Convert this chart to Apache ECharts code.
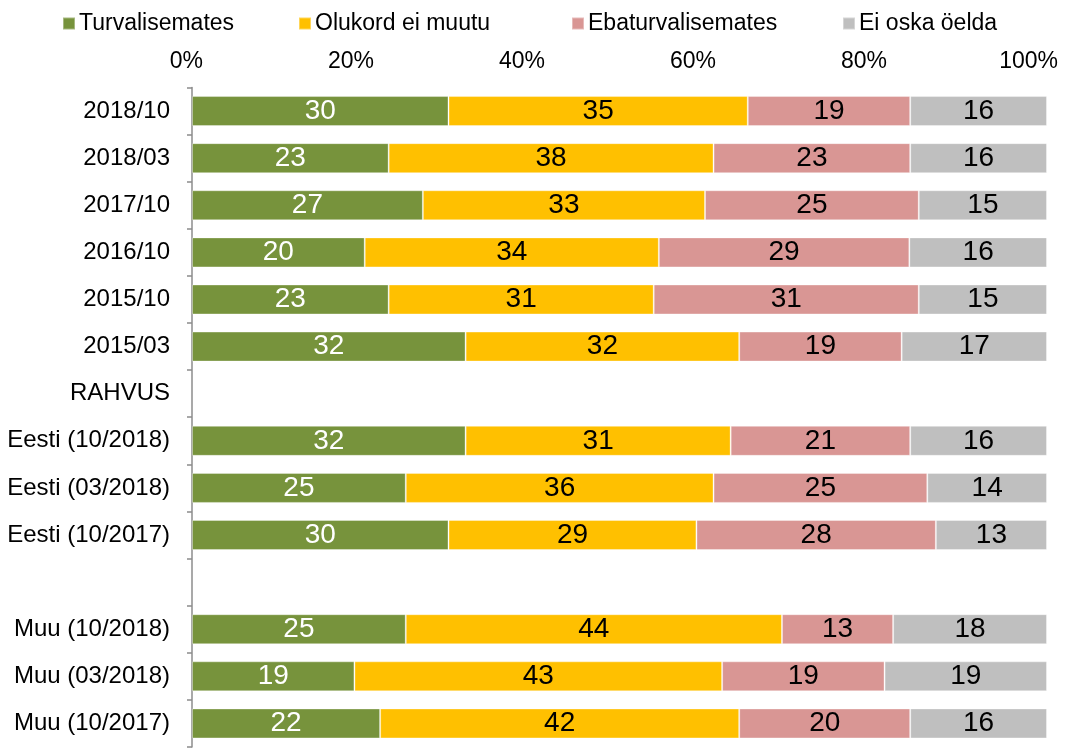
<!DOCTYPE html>
<html>
<head>
<meta charset="utf-8">
<script src="https://cdn.jsdelivr.net/npm/echarts@6/dist/echarts.min.js"></script>
<style>
  html, body { margin: 0; padding: 0; background: #fff; }
  #chart { width: 1080px; height: 751px; }
</style>
</head>
<body>
<div id="chart"></div>
<script>
// categories, top to bottom ('' rows are spacer rows)
var categories = ['2018/10', '2018/03', '2017/10', '2016/10', '2015/10', '2015/03', 'RAHVUS',
    'Eesti (10/2018)', 'Eesti (03/2018)', 'Eesti (10/2017)', '',
    'Muu (10/2018)', 'Muu (03/2018)', 'Muu (10/2017)'];

// shares in %
var turvalisemates = [30, 23, 27, 20.2, 23, 32, '-', 32, 25, 30, '-', 25, 19, 22];
var olukordEiMuutu = [35, 38, 33, 34.4, 31, 32, '-', 31, 36, 29, '-', 44, 43, 42];
var ebaturvalisemates = [19, 23, 25, 29.3, 31, 19, '-', 21, 25, 28, '-', 13, 19, 20];
var eiOskaOelda = [16, 16, 15, 16.1, 15, 17, '-', 16, 14, 13, '-', 18, 19, 16];

var seriesNames = ['Turvalisemates', 'Olukord ei muutu', 'Ebaturvalisemates', 'Ei oska öelda'];
var colors = ['#77933C', '#FFC000', '#D99694', '#BFBFBF'];
var labelColors = ['#ffffff', '#000000', '#000000', '#000000'];
var values = [turvalisemates, olukordEiMuutu, ebaturvalisemates, eiOskaOelda];
var legendLeft = [62, 298, 571, 842];

var font = 'Liberation Sans, Arial, sans-serif';

var myChart = echarts.init(document.getElementById('chart'));

var legends = seriesNames.map(function (name, i) {
    return {
        data: [name],
        left: legendLeft[i],
        top: 12,
        padding: 0,
        itemWidth: 12,
        itemHeight: 12,
        itemGap: 0,
        icon: 'rect',
        textStyle: { fontFamily: font, fontSize: 23, color: '#000', padding: [0, 0, 0, -1] },
        selectedMode: false
    };
});

var series = seriesNames.map(function (name, i) {
    return {
        name: name,
        type: 'bar',
        stack: 'total',
        barWidth: 30,
        data: values[i],
        itemStyle: { color: colors[i], borderColor: 'rgba(255,255,255,0.35)', borderWidth: 1 },
        label: {
            show: true,
            position: 'inside',
            color: labelColors[i],
            fontFamily: font,
            fontSize: 28,
            formatter: function (p) { return Math.round(p.value); }
        },
        emphasis: { disabled: true }
    };
});

var option = {
    animation: false,
    color: colors,
    legend: legends,
    grid: { left: 192, right: 33, top: 87.5, bottom: 4, containLabel: false },
    xAxis: {
        type: 'value',
        position: 'top',
        min: 0,
        max: 100,
        interval: 20,
        axisLine: { show: false },
        axisTick: { show: false },
        splitLine: { show: false },
        axisLabel: {
            formatter: '{value}%',
            fontFamily: font,
            fontSize: 23,
            color: '#000',
            margin: 14,
            align: 'right',
            padding: [0, -11, 0, 0]
        }
    },
    yAxis: {
        type: 'category',
        inverse: true,
        data: categories,
        axisLine: { show: true, lineStyle: { color: '#8C8C8C', width: 1.5 } },
        axisTick: { show: true, length: 5, lineStyle: { color: '#8C8C8C', width: 1.5 } },
        axisLabel: {
            fontFamily: font,
            fontSize: 24,
            color: '#000',
            margin: 22
        }
    },
    series: series
};

option && myChart.setOption(option);
</script>
</body>
</html>
